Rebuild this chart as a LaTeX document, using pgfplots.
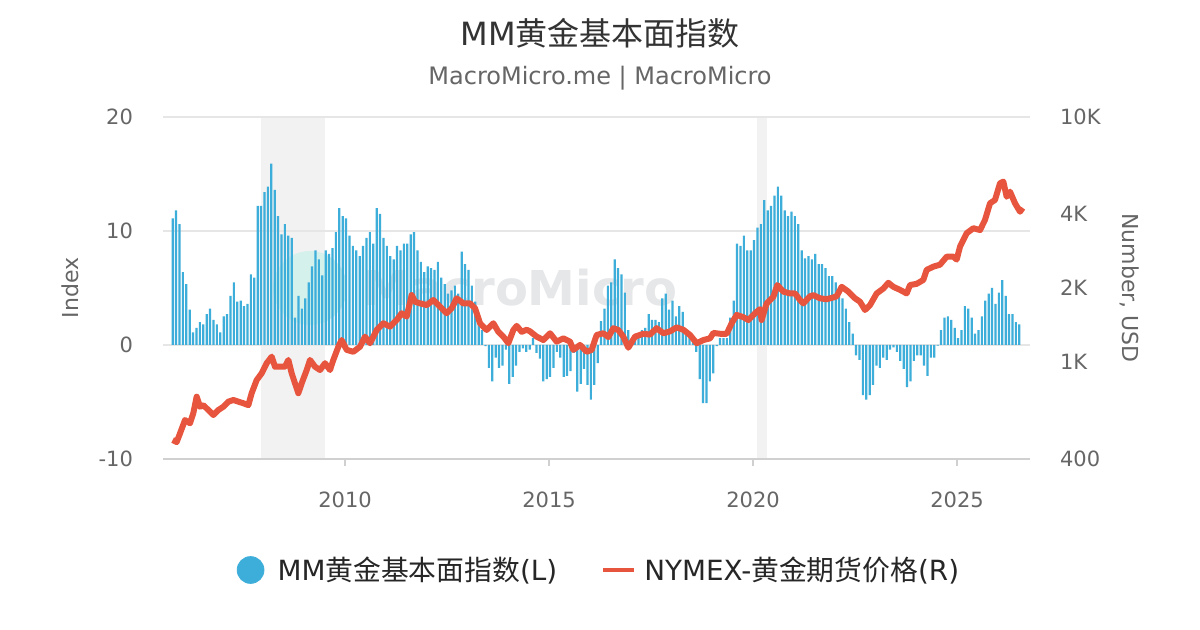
\documentclass[border=0pt]{standalone}
\usepackage{fontspec}
\setmainfont{DejaVu Sans}
\newfontfamily\cjk{Noto Sans CJK SC}
\usepackage{pgfplots}
\usepackage{pgfplotstable}
\pgfplotsset{compat=1.18}
\definecolor{mmblue}{HTML}{3DAEDA}
\definecolor{mmred}{HTML}{E8553E}
\definecolor{gridc}{HTML}{E6E6E6}
\definecolor{axisc}{HTML}{D0D0D0}
\definecolor{txtc}{HTML}{666666}
\definecolor{titc}{HTML}{333333}
\definecolor{shadec}{HTML}{F2F2F2}
\definecolor{wmgray}{HTML}{E6E7E9}
\definecolor{wmteal}{HTML}{D5F1EC}

% MM gold fundamental index, monthly, first bar ~ Oct 2005
\pgfplotstableread{
v
11.1
11.8
10.6
6.4
5.35
3.1
1.1
1.5
2.0
1.8
2.7
3.2
2.2
1.8
1.1
2.5
2.7
4.3
5.5
3.8
3.9
3.4
3.6
6.2
5.9
12.2
12.2
13.4
13.9
15.9
13.6
11.3
9.7
10.6
9.6
9.4
2.4
4.3
3.2
4.1
5.5
6.9
8.3
7.5
6.1
8.3
8.0
8.5
9.9
12.0
11.3
11.1
9.6
8.7
8.3
7.8
8.7
9.4
9.9
8.9
12.0
11.5
9.4
8.7
7.8
7.5
8.7
8.3
8.9
8.9
9.7
9.9
8.3
7.3
6.4
6.9
6.75
6.6
7.3
5.9
5.35
4.5
4.8
5.2
4.5
8.2
7.1
6.6
5.2
3.8
2.2
1.3
-0.1
-2.0
-3.2
-1.1
-2.0
-1.8
-0.4
-3.4
-2.8
-1.8
-0.6
-0.3
-0.6
-0.4
0.6
-0.7
-1.2
-3.2
-3.0
-2.8
-2.0
-0.6
-1.1
-2.8
-2.7
-2.3
-0.7
-4.1
-3.4
-2.1
-3.5
-4.8
-3.5
-1.6
2.1
3.2
5.2
5.5
7.5
6.75
6.2
4.6
1.3
0.5
0.4
1.0
1.3
1.5
2.7
2.2
2.2
2.0
4.1
4.5
3.1
3.9
2.5
3.4
2.9
1.3
0.8
0.3
-0.6
-3.0
-5.1
-5.1
-3.2
-2.5
-0.1
0.6
0.6
0.6
2.4
3.9
8.9
8.7
9.6
8.3
8.3
9.2
10.3
10.6
12.7
11.8
12.2
13.1
13.9
13.1
11.8
11.3
11.7
11.3
10.6
8.3
7.6
7.8
7.5
8.0
7.1
7.1
6.75
6.05
6.05
5.5
4.8
4.1
3.2
2.0
1.0
-0.9
-1.3
-4.4
-4.8
-4.4
-3.5
-1.8
-2.0
-1.1
-1.3
-0.4
-0.2
-0.6
-1.4
-2.1
-3.7
-3.2
-1.4
-0.9
-0.9
-1.8
-2.7
-1.1
-1.1
-0.05
1.3
2.4
2.5
2.2
1.5
0.6
1.3
3.4
3.2
2.4
1.0
1.3
2.5
3.9
4.5
5.0
3.6
4.6
5.7
4.3
2.7
2.7
2.0
1.8
}\barsdata

% NYMEX gold futures price (USD)
\pgfplotstableread{
yr p
2005.776 478
2005.874 469
2005.956 509
2006.078 577
2006.201 560
2006.283 617
2006.364 719
2006.446 654
2006.528 664
2006.650 634
2006.773 605
2006.895 634
2007.018 654
2007.140 686
2007.263 697
2007.386 686
2007.508 676
2007.631 664
2007.712 743
2007.835 841
2007.958 896
2008.080 985
2008.203 1048
2008.284 953
2008.407 953
2008.529 953
2008.611 1016
2008.693 896
2008.775 815
2008.856 743
2008.938 815
2009.061 924
2009.142 1016
2009.265 953
2009.387 924
2009.510 985
2009.632 924
2009.714 1016
2009.837 1151
2009.918 1225
2010.041 1117
2010.204 1097
2010.368 1151
2010.490 1265
2010.613 1189
2010.776 1347
2010.940 1435
2011.103 1390
2011.266 1479
2011.389 1577
2011.511 1527
2011.634 1872
2011.716 1757
2011.838 1730
2012.002 1703
2012.165 1786
2012.328 1678
2012.492 1577
2012.614 1653
2012.737 1815
2012.900 1730
2013.064 1730
2013.186 1653
2013.309 1435
2013.472 1347
2013.636 1435
2013.758 1324
2013.881 1265
2014.003 1189
2014.126 1347
2014.208 1400
2014.330 1324
2014.453 1350
2014.534 1330
2014.698 1265
2014.861 1225
2015.025 1306
2015.188 1207
2015.351 1245
2015.515 1207
2015.596 1117
2015.760 1170
2015.923 1097
2016.046 1117
2016.168 1285
2016.332 1306
2016.454 1260
2016.577 1370
2016.699 1347
2016.822 1265
2016.944 1140
2017.108 1265
2017.312 1300
2017.475 1290
2017.639 1370
2017.802 1306
2017.966 1330
2018.129 1380
2018.292 1350
2018.456 1285
2018.619 1189
2018.783 1225
2018.946 1245
2019.028 1310
2019.191 1300
2019.355 1300
2019.477 1435
2019.600 1552
2019.763 1520
2019.886 1479
2020.049 1577
2020.172 1640
2020.210 1479
2020.335 1730
2020.498 1841
2020.596 2056
2020.743 1933
2020.907 1900
2021.029 1900
2021.152 1786
2021.233 1730
2021.397 1850
2021.479 1870
2021.642 1815
2021.806 1800
2021.969 1830
2022.050 1850
2022.173 2022
2022.336 1933
2022.500 1815
2022.623 1757
2022.745 1626
2022.868 1703
2023.031 1900
2023.194 1990
2023.317 2100
2023.440 2022
2023.603 1965
2023.766 1900
2023.848 2056
2024.011 2080
2024.175 2158
2024.257 2372
2024.420 2445
2024.583 2490
2024.747 2685
2024.910 2685
2024.992 2613
2025.074 2952
2025.237 3350
2025.400 3510
2025.564 3450
2025.686 3795
2025.809 4438
2025.931 4580
2026.054 5360
2026.136 5440
2026.217 4720
2026.299 4950
2026.422 4438
2026.544 4100
2026.610 4250
}\golddata

\pgfplotsset{
  mmframe/.style={
    at={(81.5pt,85.5pt)}, anchor=south west,
    scale only axis, width=433.5pt, height=171pt,
    xmin=2005.539, xmax=2026.789,
  },
}

\begin{document}
\begin{tikzpicture}
\path[use as bounding box] (0,0) rectangle (600pt,315pt);
\fill[white] (0,0) rectangle (600pt,315pt);
\node[text=titc, font=\fontsize{16}{19}\selectfont] at (300pt,298.5pt) {MM{\cjk 黄金基本面指数}};
\node[text=txtc, font=\fontsize{12}{14}\selectfont] at (300pt,276pt) {MacroMicro.me | MacroMicro};

% recession shading
\begin{axis}[mmframe, ymin=-10, ymax=20, hide axis]
\addplot[fill=shadec, draw=none] coordinates {(2007.94,-10) (2007.94,20) (2009.51,20) (2009.51,-10)};
\addplot[fill=shadec, draw=none] coordinates {(2020.10,-10) (2020.10,20) (2020.35,20) (2020.35,-10)};
\end{axis}

% watermark
\fill[wmteal] (155pt,171pt) circle (18.5pt);
\node[text=wmgray, font=\bfseries\fontsize{24}{27}\selectfont] at (260pt,171pt) {MacroMicro};

\begin{axis}[
  mmframe,
  ymin=-10, ymax=20,
  ytick={-10,0,10,20}, yticklabels={-10,0,10,20},
  xtick={2010,2015,2020,2025}, xticklabels={2010,2015,2020,2025},
  axis x line*=bottom, axis y line*=left,
  x axis line style={draw=axisc, line width=1pt, -},
  y axis line style={draw=none},
  ymajorgrids, grid style={draw=gridc, line width=0.6pt},
  ytick style={draw=none},
  xtick style={draw=axisc, line width=0.6pt},
  tick align=outside, major tick length=3.5pt,
  ticklabel style={text=txtc, font=\fontsize{10.5}{12}\selectfont},
  yticklabel style={xshift=-8pt},
  xticklabel style={yshift=-9.5pt},
  ylabel={Index},
  ylabel style={text=txtc, font=\fontsize{11}{13}\selectfont, at={(axis description cs:-0.1073,0.5)}, anchor=center},
]
\addplot[ybar, bar width=1.1pt, bar shift=0pt, fill=mmblue, draw=none] table[x expr=2005.776+\coordindex/12, y=v] {\barsdata};
\end{axis}

\begin{axis}[
  mmframe,
  ymode=log, ymin=400, ymax=10000,
  axis x line=none, axis y line*=right,
  y axis line style={draw=none},
  ytick={400,1000,2000,4000,10000}, yticklabels={400,1K,2K,4K,10K},
  ytick style={draw=none},
  ticklabel style={text=txtc, font=\fontsize{10.5}{12}\selectfont},
  yticklabel style={xshift=11.5pt},
  ylabel={Number, USD},
  ylabel style={text=txtc, font=\fontsize{11}{13}\selectfont, at={(axis description cs:1.1153,0.5)}, anchor=center, rotate=180},
  legend columns=2,
  legend cell align=left,
  legend style={at={(axis description cs:0.504,-0.3246)}, anchor=center, draw=none, fill=none,
    font=\fontsize{13.9}{16}\selectfont, text=black!85,
    /tikz/every even column/.append style={column sep=20pt}},
]
\addlegendimage{legend image code/.code={\fill[mmblue] (6.7pt,0pt) circle (6.7pt); \path (18pt,0pt);}}
\addlegendentry{MM{\cjk 黄金基本面指数}(L)}
\addplot[mmred, line width=3pt, line join=round,
  legend image code/.code={\draw[mmred, line width=2pt] (0pt,0pt) -- (15.5pt,0pt); \path (17pt,0pt);}]
  table[x=yr, y=p] {\golddata};
\addlegendentry{NYMEX-{\cjk 黄金期货价格}(R)}
\end{axis}
\end{tikzpicture}
\end{document}
